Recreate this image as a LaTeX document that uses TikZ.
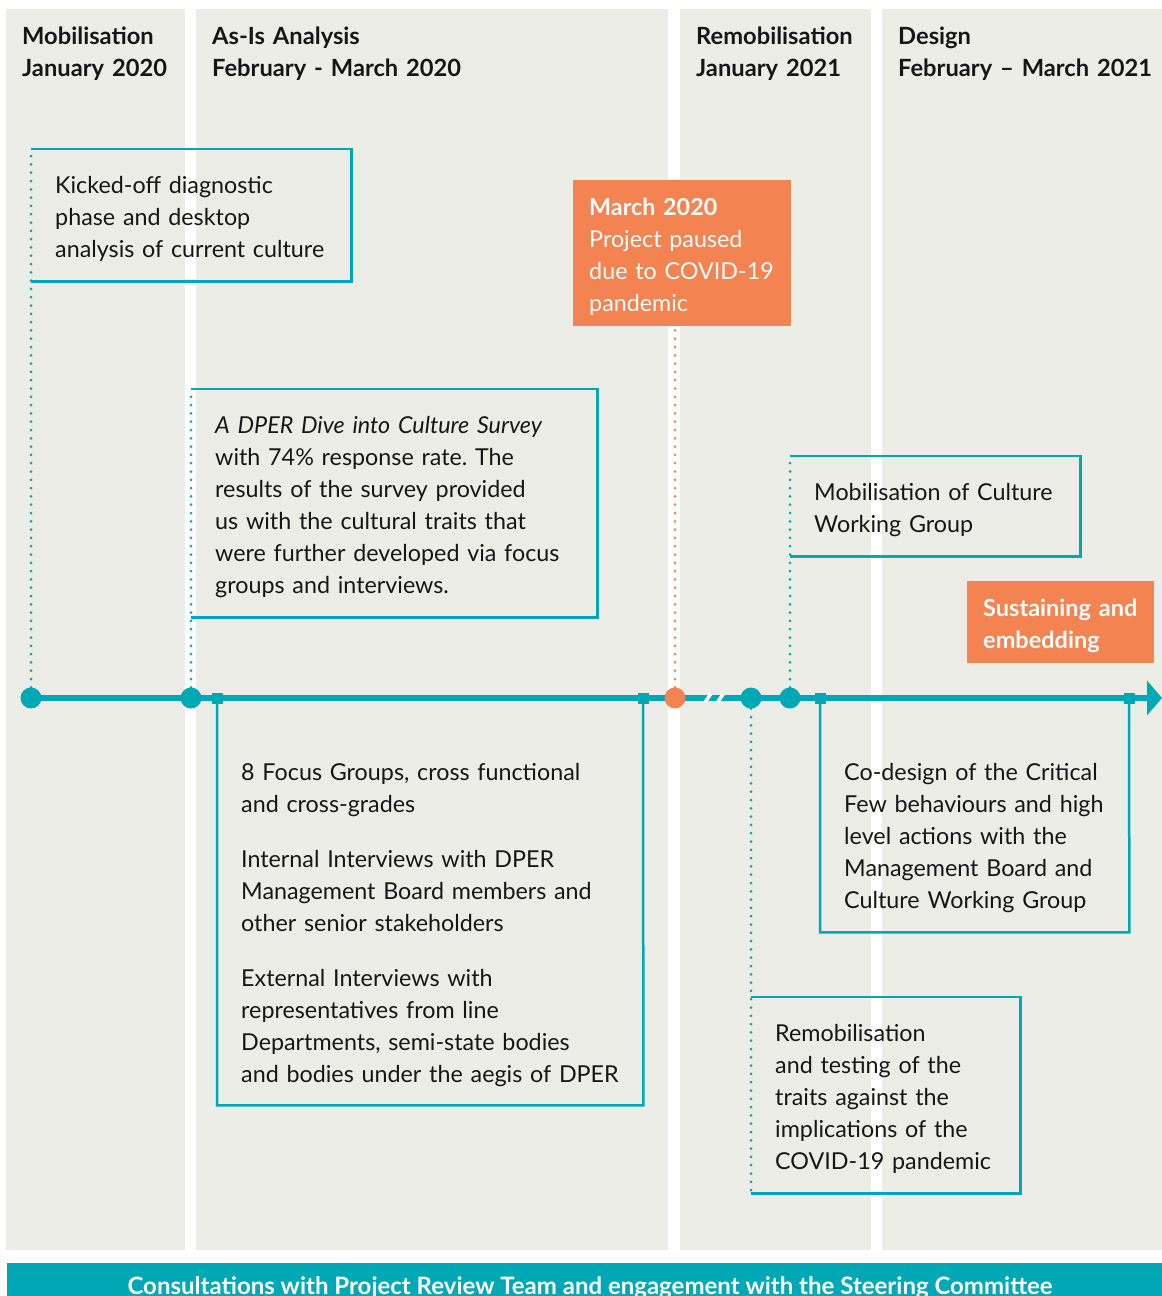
\documentclass[tikz,border=0pt]{standalone}
\usepackage{fontspec}
\setmainfont{Lato}
\usetikzlibrary{arrows.meta}
\frenchspacing

\definecolor{tealc}{HTML}{00A8B5}
\definecolor{orangec}{HTML}{F48352}
\definecolor{colbg}{HTML}{EDEDE8}
\definecolor{ink}{HTML}{161616}

\begin{document}
\begin{tikzpicture}[x=1pt, y=-1pt,
  col/.style={fill=colbg, draw=none},
  head/.style={anchor=base west, align=left, text width=300pt, inner sep=0pt, font=\fontsize{23.7}{32}\selectfont\bfseries, text=ink},
  txt/.style={anchor=north west, align=left, inner xsep=24pt, inner ysep=0pt, font=\fontsize{23.3}{32}\selectfont, text=ink,
    execute at begin node={\rule{0pt}{25pt}}},
  note/.style={txt, fill=orangec, text=white, inner xsep=16pt},
  frame/.style={draw=tealc, line width=2.5pt},
  link/.style={tealc, line width=3pt, line cap=round, dash pattern=on 0pt off 8.3pt},
  axis/.style={tealc, line width=6pt, -{Triangle[length=15pt, width=34pt]}},
  mile/.style={circle, fill=tealc, minimum size=21pt, inner sep=0pt},
  tick/.style={rectangle, fill=tealc, minimum size=11pt, inner sep=0pt}
]
\useasboundingbox (0,0) rectangle (1162,1296);

% Phase columns
\fill[col] (6,9) rectangle (185,1250);
\fill[col] (196,9) rectangle (668,1250);
\fill[col] (680,9) rectangle (871,1250);
\fill[col] (882,9) rectangle (1162,1250);

\node[head] (hmob) at (22,44) {Mobilisation\\January 2020};
\node[head] (hasis) at (212,44) {As-Is Analysis\\February - March 2020};
\node[head] (hremob) at (696,44) {Remobilisation\\January 2021};
\node[head] (hdes) at (898,44) {Design\\February – March 2021};

% Banner
\node[fill=tealc, anchor=north west, minimum width=1155pt, minimum height=40pt, inner sep=0pt] (band) at (7,1263) {};
\node[anchor=base, text=white, font=\fontsize{24}{32}\selectfont\bfseries, inner sep=0pt] (bandtxt) at (590,1294)
  {Consultations with Project Review Team and engagement with the Steering Committee};

% Timeline
\coordinate (t0) at (31,698);
\coordinate (t1) at (1162,698);
\draw[axis] (t0) -- (t1);
\draw[white, line width=3.5pt] (705,702.5) -- (711,693.5);
\draw[white, line width=3.5pt] (717.5,702.5) -- (723.5,693.5);

% Milestones
\node[mile] (m1) at (31,698) {};
\node[mile] (m2) at (191,698) {};
\node[mile, fill=orangec] (pause) at (675,698) {};
\node[mile] (m3) at (751,698) {};
\node[mile] (m4) at (790,698) {};
\node[tick] (fa) at (217,698) {};
\node[tick] (fb) at (643,698) {};
\node[tick] (ca) at (820,698) {};
\node[tick] (cb) at (1129,698) {};

% Boxes above the line
\node[txt, text width=272pt, minimum height=132pt] (kick) at (31,149)
  {Kicked-off diagnostic\\phase and desktop\\analysis of current culture};
\node[txt, text width=358pt, minimum height=228pt] (survey) at (191,389)
  {\textit{A DPER Dive into Culture Survey}\\with 74\% response rate. The\\results of the survey provided\\us with the cultural traits that\\were further developed via focus\\groups and interviews.};
\node[note, text width=186pt, minimum width=217pt, minimum height=146pt] (paused) at (573,180)
  {\textbf{March 2020}\\Project paused\\due to COVID-19\\pandemic};
\node[txt, text width=242pt, minimum height=100pt] (cwg) at (790,456)
  {Mobilisation of Culture\\Working Group};
\node[note, font=\fontsize{23.5}{32}\selectfont\bfseries, text width=155pt, minimum width=187pt, minimum height=82pt] (sustain) at (967,581)
  {Sustaining and\\embedding};

% Boxes below the line
\node[txt, text width=378pt, minimum height=368pt] (focus) at (217,737)
  {8 Focus Groups, cross functional\\and cross-grades\\[23pt]Internal Interviews with DPER\\Management Board members and\\other senior stakeholders\\[23pt]External Interviews with\\representatives from line\\Departments, semi-state bodies\\and bodies under the aegis of DPER};
\node[txt, text width=261pt, minimum height=197pt] (codes) at (820,735)
  {Co-design of the Critical\\Few behaviours and high\\level actions with the\\Management Board and\\Culture Working Group};
\node[txt, text width=221pt, minimum height=196pt] (retest) at (751,997)
  {Remobilisation\\and testing of the\\traits against the\\implications of the\\COVID-19 pandemic};

% Frames
\draw[frame] (kick.north west) -- (kick.north east) -- (kick.south east) -- (kick.south west);
\draw[frame] (survey.north west) -- (survey.north east) -- (survey.south east) -- (survey.south west);
\draw[frame] (cwg.north west) -- (cwg.north east) -- (cwg.south east) -- (cwg.south west);
\draw[frame] (retest.south west) -- (retest.south east) -- (retest.north east) -- (retest.north west);
\draw[frame] (fa.center) |- (focus.south east) -- (fb.center);
\draw[frame] (ca.center) |- (codes.south east) -- (cb.center);

% Dotted links
\draw[link] (m1) -- (kick.north west);
\draw[link] (m2) -- (survey.north west);
\draw[link] (m4) -- (cwg.north west);
\draw[link] (m3) -- (retest.south west);
\draw[link, orangec] (pause) -- (pause |- paused.south);

\end{tikzpicture}
\end{document}
